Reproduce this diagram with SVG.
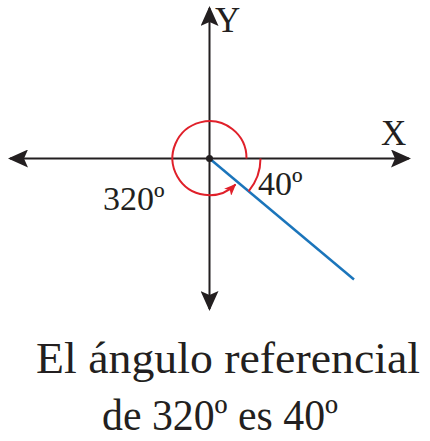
<svg xmlns="http://www.w3.org/2000/svg" width="430" height="441" viewBox="0 0 430 441">
<style>
text{font-family:"Liberation Serif","Times New Roman",serif;fill:#231f20}
.axis{stroke:#231f20;stroke-width:2;fill:none}
.red{stroke:#e0202a;stroke-width:2;fill:none}
.blue{stroke:#1b75bb;stroke-width:2.5;fill:none}
.head{fill:#231f20}
</style>
<defs>
<marker id="ah" viewBox="0 0 20 18" refX="18" refY="9" markerWidth="20" markerHeight="18" markerUnits="userSpaceOnUse" orient="auto-start-reverse">
<path d="M0,0 L20,9 L0,18 L4,9 Z" class="head"/>
</marker>
<marker id="rh" viewBox="0 0 12 10" refX="11" refY="5" markerWidth="12" markerHeight="10" markerUnits="userSpaceOnUse" orient="auto">
<path d="M0,0 L12,5 L0,10 L3,5 Z" fill="#e0202a"/>
</marker>
</defs>
<g id="connectors">
<line id="x-axis" class="axis" x1="10" y1="158.5" x2="409" y2="158.5" marker-start="url(#ah)" marker-end="url(#ah)"/>
<line id="y-axis" class="axis" x1="209.5" y1="8" x2="209.5" y2="309" marker-start="url(#ah)" marker-end="url(#ah)"/>
<line id="terminal" class="blue" x1="209.5" y1="158.5" x2="354" y2="279.5"/>
<path id="arc320" class="red" d="M246.5,158.5 A37,37 0 1 0 235.5,184.5" marker-end="url(#rh)"/>
<path id="arc40" class="red" d="M260.5,158.5 A51,51 0 0 1 248.6,191.3"/>
</g>
<circle id="origin" cx="209.5" cy="158.5" r="3.5" fill="#231f20"/>
<g id="label-y"><text x="215" y="32" font-size="35">Y</text></g>
<g id="label-x"><text x="381" y="145" font-size="35">X</text></g>
<g id="label-320"><text x="103" y="210" font-size="34">320º</text></g>
<g id="label-40"><text x="258" y="195" font-size="34">40º</text></g>
<g id="caption">
<text x="36" y="373" font-size="45" textLength="384" lengthAdjust="spacingAndGlyphs">El ángulo referencial</text>
<text x="102" y="430" font-size="45" textLength="236" lengthAdjust="spacingAndGlyphs">de 320º es 40º</text>
</g>
</svg>
